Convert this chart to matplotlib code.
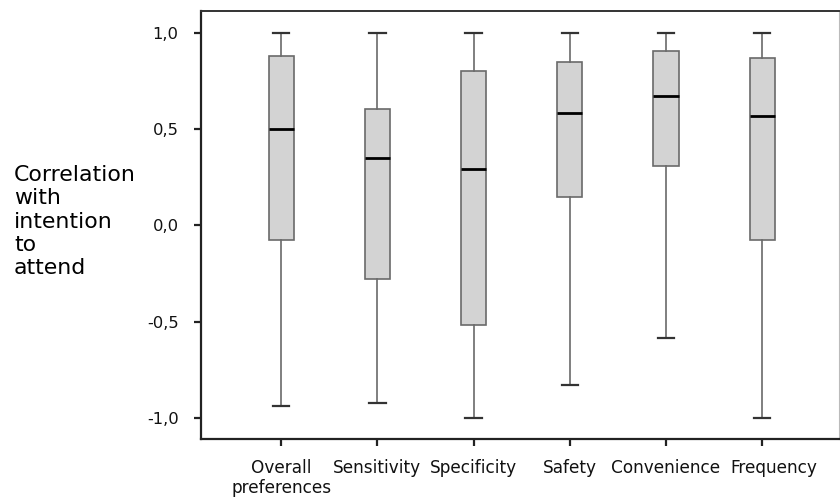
import matplotlib
matplotlib.use("Agg")
from matplotlib import pyplot as plt

categories = ["Overall\npreferences", "Sensitivity", "Specificity", "Safety", "Convenience", "Frequency"]
whisker_low = [-0.94, -0.92, -1.0, -0.83, -0.585, -1.0]
q1 = [-0.078, -0.277, -0.516, 0.147, 0.31, -0.074]
median = [0.5, 0.351, 0.291, 0.581, 0.671, 0.569]
q3 = [0.881, 0.605, 0.801, 0.849, 0.905, 0.87]
whisker_high = [1.0, 1.0, 1.0, 1.0, 1.0, 1.0]
y_ticks = [-1.0, -0.5, 0.0, 0.5, 1.0]
y_tick_labels = ["-1,0", "-0,5", "0,0", "0,5", "1,0"]

stats = []
for i in range(len(categories)):
    stats.append({"whislo": whisker_low[i], "q1": q1[i], "med": median[i],
                  "q3": q3[i], "whishi": whisker_high[i], "fliers": []})

fig = plt.figure(figsize=(8.4, 4.99), dpi=100)
ax = fig.add_axes([0.239, 0.120, 0.760, 0.858])

positions = list(range(1, len(categories) + 1))
ax.bxp(stats, positions=positions, widths=0.26, patch_artist=True, showfliers=False,
       boxprops=dict(facecolor="#d3d3d3", edgecolor="#6a6a6a", linewidth=1.2),
       medianprops=dict(color="black", linewidth=2.0),
       whiskerprops=dict(color="#6a6a6a", linewidth=1.2),
       capprops=dict(color="#333333", linewidth=1.6),
       capwidths=0.17)

ax.set_xlim(0.164, 6.80)
ax.set_ylim(-1.11, 1.113)
ax.set_yticks(y_ticks)
ax.set_yticklabels(y_tick_labels, fontsize=11.8, color="#111111")
ax.set_xticks(positions)
# last label is drawn by hand a little to the right, as in the original
ax.set_xticklabels(categories[:-1] + [""], fontsize=12.2, color="#111111")
ax.annotate(categories[-1], xy=(positions[-1], 0), xycoords=("data", "axes fraction"),
            xytext=(8.6, -14), textcoords="offset points", ha="center", va="top",
            fontsize=12.2, color="#111111", annotation_clip=False)

ax.tick_params(axis="y", length=5, width=1.6, pad=11, color="#222222")
ax.tick_params(axis="x", length=5, width=1.6, pad=9, color="#222222")

for side in ["left", "bottom"]:
    ax.spines[side].set_linewidth(1.6)
    ax.spines[side].set_color("#222222")
ax.spines["top"].set_linewidth(1.4)
ax.spines["top"].set_color("#333333")
ax.spines["right"].set_linewidth(0.8)
ax.spines["right"].set_color("#bbbbbb")

fig.text(14 / 840, 1 - 221.5 / 499, "Correlation\nwith\nintention\nto\nattend",
         fontsize=15.8, ha="left", va="center", multialignment="left", linespacing=1.2)

fig.savefig("out.png", dpi=100)
